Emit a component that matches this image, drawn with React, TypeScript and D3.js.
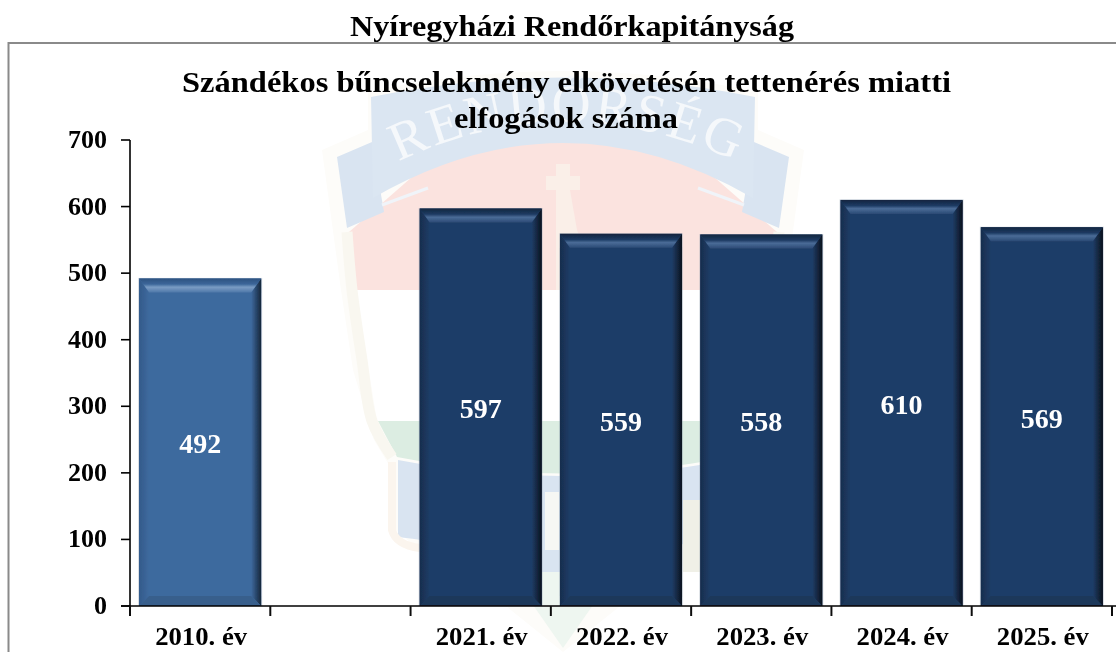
import React from "react";
import * as d3 from "d3";

const categories = ["2010. év", " ", "2021. év", "2022. év", "2023. év", "2024. év", "2025. év"];
const values: (number | null)[] = [492, null, 597, 559, 558, 610, 569];
const yTicks = [0, 100, 200, 300, 400, 500, 600, 700];
const pageTitle = "Nyíregyházi Rendőrkapitányság";
const chartTitle = ["Szándékos bűncselekmény elkövetésén tettenérés miatti", "elfogások száma"];
const watermarkWord = "RENDŐRSÉG";

const W = 1116, H = 652;
const FONT = "'Liberation Serif', 'Times New Roman', serif";

const x = d3.scaleBand<string>().domain(categories).range([130, 1112]).paddingInner(0.13).paddingOuter(0.065);
const y = d3.scaleLinear().domain([0, 700]).range([606, 140]);

const shield = (pts: [number, number][]) => d3.line().curve(d3.curveCatmullRom.alpha(0.5))(pts) as string;

function Emblem() {
  const mid = 563;
  const mirror = (p: [number, number][]) => p.map(([a, b]) => [2 * mid - a, b] as [number, number]).reverse();
  const leftEdge: [number, number][] = [[347, 232], [352, 290], [362, 360], [372, 421], [392, 457]];
  return (
    <g>
      {/* outer pale contour */}
      <path d="M322 150 L368 130 L368 92 Q563 50 758 92 L758 130 L804 150 L785 290 L773 370 L752 440 L734 470 L730 530 L700 556 L640 590 L563 652 L486 590 L426 556 L396 530 L392 470 L374 440 L353 370 L341 290 Z" fill="#fdfcf9" />
      {/* white band */}
      <path d="M356 290 L770 290 L749 421 L377 421 Z" fill="#ffffff" />
      {/* red field */}
      <path d="M349 232 L420 170 L563 120 L706 170 L777 232 L771 290 L355 290 Z" fill="#fbe3df" />
      {/* green field */}
      <path d="M378 421 L748 421 L729 457 Q563 490 397 457 Z" fill="#dcede2" />
      {/* lower blue field */}
      <path d="M398 460 Q563 492 728 460 L728 537 Q650 545 600 575 L526 575 Q476 545 398 537 Z" fill="#d9e4f1" />
      {/* lower white letter */}
      <rect x={545} y={492} width={14} height={58} fill="#f6f7f4" />
      {/* green tip */}
      <path d="M510 572 L616 572 L563 648 Z" fill="#eef6f0" />
      {/* side tails */}
      <path d="M337 157 L372 142 L384 212 L347 228 Z" fill="#d9e4f1" />
      <path d="M789 157 L754 142 L742 212 L779 228 Z" fill="#d9e4f1" />
      {/* ribbon */}
      <path d="M371 97 Q563 58 755 97 L753 198 Q563 88 373 198 Z" fill="#dbe6f2" />
      <path d="M382 205 L428 188" stroke="#f0f4f9" strokeWidth={3} fill="none" />
      <path d="M744 205 L698 188" stroke="#f0f4f9" strokeWidth={3} fill="none" />
      <path id="wm" d="M398 162 Q563 82 738 162" fill="none" />
      <text fontFamily={FONT} fontSize={54} fill="#f5f8fb" letterSpacing={3}>
        <textPath href="#wm" startOffset="50%" textAnchor="middle">{watermarkWord}</textPath>
      </text>
      {/* cross */}
      <path d="M556 290 L556 190 L546 190 L546 176 L556 176 L556 164 L570 164 L570 176 L580 176 L580 190 L570 190 L577 230 L600 290 Z" fill="#faefe8" />
      {/* side strips */}
      <path d={shield(leftEdge)} fill="none" stroke="#f9f7f0" strokeWidth={11} />
      <path d={shield(mirror(leftEdge))} fill="none" stroke="#f9f7f0" strokeWidth={11} />
      <path d="M392 462 L392 530 Q396 545 420 548" fill="none" stroke="#fbf5ee" strokeWidth={8} />
      <path d="M734 462 L734 530 Q730 545 706 548" fill="none" stroke="#fbf5ee" strokeWidth={8} />
      <rect x={683} y={500} width={18} height={72} fill="#f0f0e7" />
    </g>
  );
}

function Bar({ cat, value, i }: { cat: string; value: number; i: number }) {
  const x0 = x(cat)!, w = x.bandwidth(), y0 = y(value), y1 = y(0);
  const light = i === 0;
  const body = light ? "#3e6a9e" : "#1f3d67";
  const bev = 14, side = 10, bot = 10;
  const k = light ? "L" : "D";
  return (
    <g>
      <rect x={x0 - 1} y={y0 - 0.5} width={w + 2} height={y1 - y0 + 0.5} fill="#8a97a8" opacity={0.35} />
      <rect x={x0} y={y0} width={w} height={y1 - y0} fill={body} />
      <polygon points={`${x0},${y0} ${x0 + side},${y0 + bev} ${x0 + side},${y1 - bot} ${x0},${y1}`} fill={`url(#left${k})`} />
      <polygon points={`${x0 + w},${y0} ${x0 + w - side},${y0 + bev} ${x0 + w - side},${y1 - bot} ${x0 + w},${y1}`} fill={`url(#right${k})`} />
      <polygon points={`${x0},${y0} ${x0 + w},${y0} ${x0 + w - side},${y0 + bev} ${x0 + side},${y0 + bev}`} fill={`url(#top${k})`} />
      <polygon points={`${x0},${y1} ${x0 + w},${y1} ${x0 + w - side},${y1 - bot} ${x0 + side},${y1 - bot}`} fill={light ? "#395f8c" : "#1c385a"} />
      <text x={x0 + w / 2} y={(y0 + y1) / 2 + 11} textAnchor="middle" fontFamily={FONT} fontWeight="bold" fontSize={28} fill="#ffffff">{value}</text>
    </g>
  );
}

export default function App() {
  const step = x.step();
  const boundaries = d3.range(categories.length + 1).map((k) => 130 + k * step);
  return (
    <svg width={W} height={H} viewBox={`0 0 ${W} ${H}`} style={{ position: "absolute", left: 0, top: 0, background: "#fff" }}>
      <defs>
        <filter id="soft" x="0" y="0" width="100%" height="100%"><feGaussianBlur stdDeviation="0.6" /></filter>
        <linearGradient id="topD" x1="0" y1="0" x2="0" y2="1"><stop offset="0" stopColor="#12263f" /><stop offset="0.4" stopColor="#1d3a62" /><stop offset="0.62" stopColor="#4a6c97" /><stop offset="1" stopColor="#2b4a75" /></linearGradient>
        <linearGradient id="topL" x1="0" y1="0" x2="0" y2="1"><stop offset="0" stopColor="#2d5280" /><stop offset="0.4" stopColor="#3b6699" /><stop offset="0.62" stopColor="#7a9cc4" /><stop offset="1" stopColor="#4f78a9" /></linearGradient>
        <linearGradient id="leftD" x1="0" y1="0" x2="1" y2="0"><stop offset="0" stopColor="#172d4d" /><stop offset="1" stopColor="#1f3d67" /></linearGradient>
        <linearGradient id="leftL" x1="0" y1="0" x2="1" y2="0"><stop offset="0" stopColor="#335a8a" /><stop offset="1" stopColor="#3e6a9e" /></linearGradient>
        <linearGradient id="rightD" x1="1" y1="0" x2="0" y2="0"><stop offset="0" stopColor="#0a121d" /><stop offset="1" stopColor="#1f3d67" /></linearGradient>
        <linearGradient id="rightL" x1="1" y1="0" x2="0" y2="0"><stop offset="0" stopColor="#15253a" /><stop offset="1" stopColor="#3e6a9e" /></linearGradient>
      </defs>
      <g filter="url(#soft)">
        <Emblem />
        <rect x={0} y={0} width={W} height={42} fill="#fff" />
        <path d="M8.5 652 L8.5 43 L1116 43" fill="none" stroke="#8a8a8a" strokeWidth={2} />
        <text x={572} y={36} textAnchor="middle" fontFamily={FONT} fontWeight="bold" fontSize={30} textLength={444} lengthAdjust="spacingAndGlyphs" fill="#000">{pageTitle}</text>
        <text x={566.5} y={92} textAnchor="middle" fontFamily={FONT} fontWeight="bold" fontSize={29} textLength={769} lengthAdjust="spacingAndGlyphs" fill="#000">{chartTitle[0]}</text>
        <text x={566} y={128} textAnchor="middle" fontFamily={FONT} fontWeight="bold" fontSize={29} textLength={224} lengthAdjust="spacingAndGlyphs" fill="#000">{chartTitle[1]}</text>

        {categories.map((c, i) => (values[i] == null ? null : <Bar key={c} cat={c} value={values[i] as number} i={i} />))}

        <line x1={130} x2={130} y1={y(700)} y2={y(0)} stroke="#000" strokeWidth={1.6} />
        <line x1={121} x2={1116} y1={y(0)} y2={y(0)} stroke="#000" strokeWidth={1.4} />
        {yTicks.map((t) => (
          <g key={t}>
            <line x1={121} x2={130} y1={y(t)} y2={y(t)} stroke="#000" strokeWidth={1.6} />
            <text x={107} y={y(t) + 8} textAnchor="end" fontFamily={FONT} fontWeight="bold" fontSize={26} fill="#000">{t}</text>
          </g>
        ))}
        {boundaries.map((b) => (
          <line key={b} x1={b} x2={b} y1={y(0)} y2={y(0) + 10} stroke="#111" strokeWidth={2} />
        ))}
        {categories.map((c) => (c.trim() === "" ? null : (
          <text key={c} x={x(c)! + x.bandwidth() / 2 + 1} y={645} textAnchor="middle" fontFamily={FONT} fontWeight="bold" fontSize={25} textLength={92} lengthAdjust="spacingAndGlyphs" fill="#000">{c}</text>
        )))}
      </g>
    </svg>
  );
}
